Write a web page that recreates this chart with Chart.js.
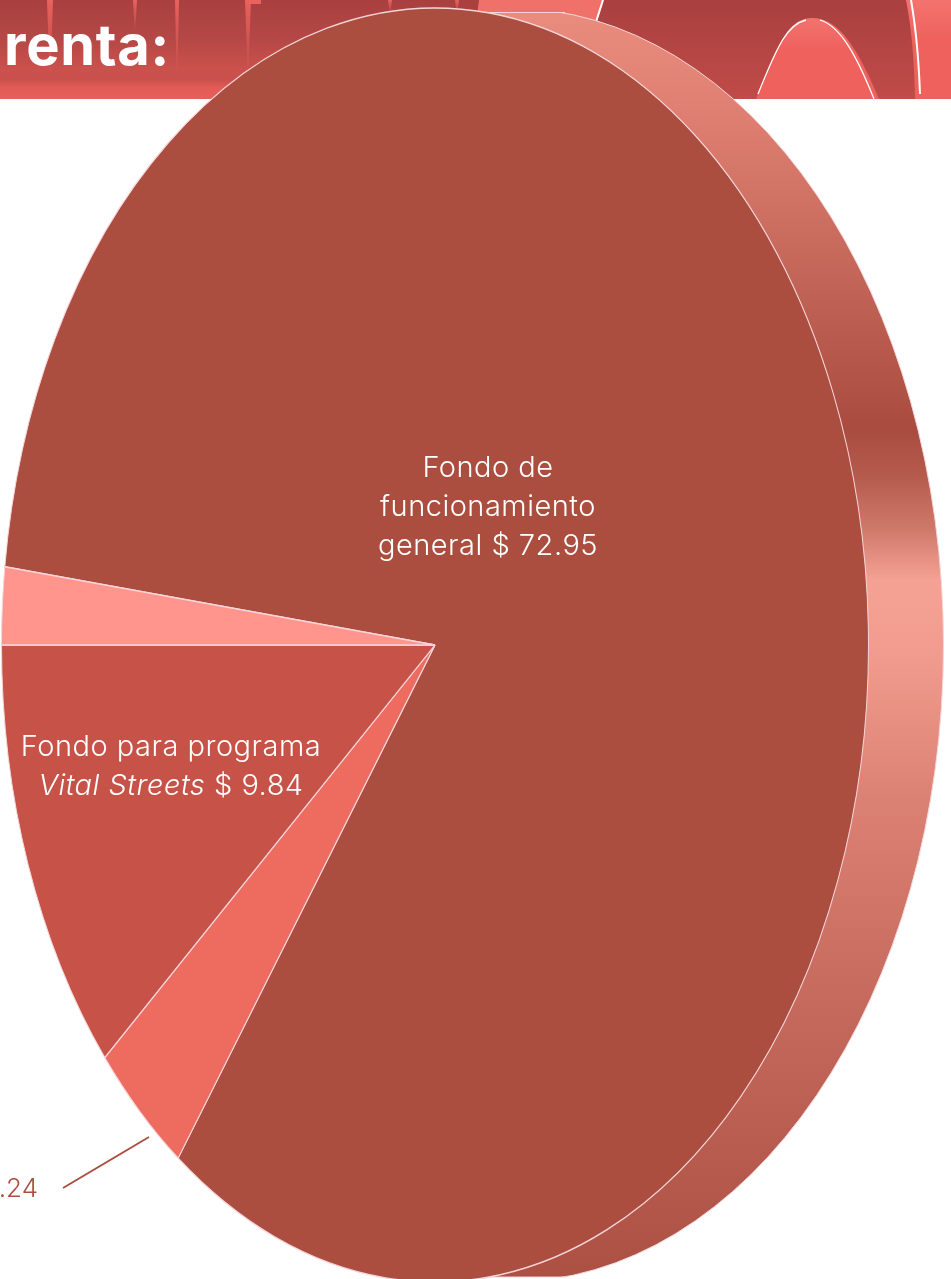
<!DOCTYPE html>
<html lang="es">
<head>
<meta charset="utf-8">
<title>renta</title>
<script src="https://cdn.jsdelivr.net/npm/chart.js@4"></script>
<style>
    html, body { margin: 0; padding: 0; background: #fff; overflow: hidden; }
    #page { position: relative; width: 951px; height: 1279px; overflow: hidden; font-family: Inter, Lato, sans-serif; font-weight: 300; }
    #pie { position: absolute; left: 0; top: 0; }
    .label { position: absolute; text-align: center; white-space: nowrap; color: #fff; font-size: 29px; line-height: 39px; letter-spacing: 0.5px; }
    #title { left: 4px; top: 11px; font-size: 56px; line-height: 68px; font-weight: 700; letter-spacing: 0.7px; }
    #main { left: 338px; width: 300px; top: 447px; }
    #vital { left: 11px; width: 320px; top: 726px; }
    #small { right: 913px; top: 1171px; color: #ab4e40; font-size: 26px; line-height: 34px; letter-spacing: 0; }
</style>
</head>
<body>
<div id="page">
    <canvas id="pie" width="951" height="1279"></canvas>
    <div class="label" id="title">renta:</div>
    <div class="label" id="main">Fondo de<br>funcionamiento<br>general $ 72.95</div>
    <div class="label" id="vital">Fondo para programa<br><i>Vital Streets</i> $ 9.84</div>
    <div class="label" id="small">$ 3.24</div>
</div>
<script>
const categories = ['Fondo de funcionamiento general', 'Otro fondo', 'Fondo para programa Vital Streets', 'Fondo menor'];
const fundValues = [72.95, 3.24, 9.84, 1.72];
const sliceColors = ['#ab4e40', '#ee6b60', '#c65248', '#ff958c'];

const edgeColor = '#f6d5da';
const ellipseHeight = 637;
const depth = 75;

// banner behind the pie
const banner = {
    id: 'banner',
    beforeDraw(chart) {
        const ctx = chart.ctx;
        ctx.save();
        let g = ctx.createLinearGradient(0, 0, 0, 99);
        g.addColorStop(0, '#a8403f');
        g.addColorStop(0.4, '#b54846');
        g.addColorStop(0.7, '#cb514c');
        g.addColorStop(0.8, '#c9504c');
        g.addColorStop(0.88, '#e05a56');
        g.addColorStop(1, '#e95f5b');
        ctx.fillStyle = g;
        ctx.fillRect(0, 0, 951, 99);

        g = ctx.createLinearGradient(0, 0, 0, 99);
        g.addColorStop(0, '#a8403f');
        g.addColorStop(1, '#c04b48');
        ctx.fillStyle = g;
        ctx.fillRect(470, 0, 481, 99);

        // thin streaks on the left
        [[47, 53, 72], [133, 137, 28], [175, 179, 70], [245, 251, 66], [388, 392, 12], [455, 459, 12]].forEach(s => {
            const fade = ctx.createLinearGradient(0, 0, 0, s[2]);
            fade.addColorStop(0, 'rgba(238,100,94,0.95)');
            fade.addColorStop(1, 'rgba(238,100,94,0.15)');
            ctx.fillStyle = fade;
            ctx.beginPath();
            ctx.moveTo(s[0], 0);
            ctx.lineTo(s[1], 0);
            ctx.lineTo((s[0] + s[1]) / 2 + 0.5, s[2]);
            ctx.lineTo((s[0] + s[1]) / 2 - 0.5, s[2]);
            ctx.closePath();
            ctx.fill();
        });
        ctx.fillStyle = '#ec625d';
        ctx.fillRect(247, 0, 14, 4);

        // top blob behind the pie
        ctx.fillStyle = '#f0706a';
        ctx.beginPath();
        ctx.moveTo(479, 0);
        ctx.lineTo(604, 0);
        ctx.lineTo(596, 24);
        ctx.lineTo(477, 16);
        ctx.closePath();
        ctx.fill();

        // right panel
        g = ctx.createLinearGradient(0, 0, 0, 40);
        g.addColorStop(0, '#f4736e');
        g.addColorStop(1, '#ef615d');
        ctx.fillStyle = g;
        ctx.beginPath();
        ctx.moveTo(906, 0);
        ctx.quadraticCurveTo(914, 40, 915, 99);
        ctx.lineTo(951, 99);
        ctx.lineTo(951, 0);
        ctx.closePath();
        ctx.fill();

        // bump
        g = ctx.createLinearGradient(0, 18, 0, 50);
        g.addColorStop(0, '#f2736e');
        g.addColorStop(1, '#ef615d');
        ctx.fillStyle = g;
        ctx.beginPath();
        ctx.moveTo(756, 99);
        ctx.bezierCurveTo(778, 40, 790, 18, 812, 18);
        ctx.bezierCurveTo(840, 18, 858, 50, 879, 99);
        ctx.closePath();
        ctx.fill();

        ctx.strokeStyle = '#fff';
        ctx.lineWidth = 1.3;
        ctx.beginPath();
        ctx.moveTo(758, 94);
        ctx.bezierCurveTo(778, 44, 788, 24, 806, 20);
        ctx.moveTo(820, 20);
        ctx.bezierCurveTo(840, 26, 856, 54, 874, 99);
        ctx.stroke();

        ctx.lineWidth = 2;
        ctx.beginPath();
        ctx.moveTo(911, 0);
        ctx.quadraticCurveTo(918, 40, 920, 94);
        ctx.moveTo(603, 0);
        ctx.lineTo(596, 22);
        ctx.stroke();
        ctx.restore();
    }
};

// squashes the round pie into the tilted ellipse and adds the side wall
const tilted = {
    id: 'tilted',
    beforeDatasetsDraw(chart) {
        const ctx = chart.ctx;
        const arc = chart.getDatasetMeta(0).data[0];
        const r = arc.outerRadius;

        ctx.save();
        ctx.beginPath();
        ctx.rect(0, 12, 951, 1265);
        ctx.clip();
        const g = ctx.createLinearGradient(0, 12, 0, 1277);
        g.addColorStop(0, '#e98c7e');
        g.addColorStop(0.08, '#de7f71');
        g.addColorStop(0.18, '#c96c5e');
        g.addColorStop(0.33, '#a94c3f');
        g.addColorStop(0.365, '#b45a4c');
        g.addColorStop(0.41, '#d07a6c');
        g.addColorStop(0.45, '#f5a295');
        g.addColorStop(0.51, '#f09b8e');
        g.addColorStop(0.62, '#dc8274');
        g.addColorStop(0.78, '#c56a5c');
        g.addColorStop(1, '#ac5043');
        ctx.fillStyle = g;
        ctx.strokeStyle = edgeColor;
        ctx.lineWidth = 1;
        ctx.beginPath();
        ctx.ellipse(arc.x + depth, arc.y, r, ellipseHeight, 0, 0, Math.PI * 2);
        ctx.fill();
        ctx.stroke();
        ctx.restore();

        ctx.save();
        ctx.strokeStyle = edgeColor;
        ctx.beginPath();
        ctx.moveTo(480, 12.5);
        ctx.lineTo(565, 12.5);
        ctx.moveTo(480, 1277);
        ctx.lineTo(567, 1277);
        ctx.stroke();
        ctx.restore();

        ctx.save();
        ctx.translate(arc.x, arc.y);
        ctx.scale(1, ellipseHeight / r);
        ctx.translate(-arc.x, -arc.y);
    },
    afterDatasetsDraw(chart) {
        const ctx = chart.ctx;
        ctx.restore();

        // leader to the small slice label
        ctx.save();
        ctx.strokeStyle = '#ab4e40';
        ctx.lineWidth = 2;
        ctx.beginPath();
        ctx.moveTo(63, 1188);
        ctx.lineTo(149, 1137);
        ctx.stroke();
        ctx.restore();
    }
};

const total = fundValues.reduce((a, b) => a + b, 0);
const startAngle = 270 + fundValues[3] / total * 360;

new Chart(document.getElementById('pie'), {
    type: 'pie',
    data: {
        labels: categories,
        datasets: [{
            data: fundValues,
            backgroundColor: sliceColors,
            borderColor: edgeColor,
            borderWidth: 1,
        }]
    },
    plugins: [banner, tilted],
    options: {
        responsive: false,
        animation: false,
        rotation: startAngle,
        layout: {
            padding: { left: 1, right: 82, top: 211, bottom: 200 },
        },
        plugins: {
            legend: { display: false },
            tooltip: { enabled: false },
        }
    }
});
</script>
</body>
</html>
